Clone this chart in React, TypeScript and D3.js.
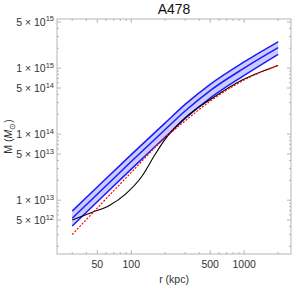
import React from 'react';
import * as d3 from 'd3';

// radii (kpc) and masses (M_sun)
const rGrid = [30, 50, 100, 200, 300, 500, 1000, 2000];
const massMid = [5.31e12, 1.23e13, 3.85e13, 1.175e14, 2.24e14, 4.57e14, 1.0e15, 2.04e15];
const massUpper = [6.84e12, 1.585e13, 4.9e13, 1.48e14, 2.82e14, 5.69e14, 1.245e15, 2.51e15];
const massLower = [4.07e12, 9.44e12, 2.95e13, 9.02e13, 1.73e14, 3.52e14, 7.76e14, 1.62e15];
const massFit = [3.02e12, 7.59e12, 2.63e13, 8.91e13, 1.585e14, 3.16e14, 6.61e14, 1.1e15];

const rHydro = [30, 44, 64, 90, 123, 161, 197, 297, 518, 960, 2000];
const massHydro = [
  5.01e12, 6.46e12, 8.32e12, 1.26e13, 2.24e13, 4.79e13, 8.13e13, 1.74e14, 3.47e14, 6.61e14,
  1.1e15,
];

const xTickValues = [50, 100, 500, 1000];
const yTickMant = [5, 1, 5, 1, 5, 1, 5];
const yTickExp = [15, 15, 14, 14, 13, 13, 12];

const title = 'A478';

const W = 295;
const H = 288;
const margin = { top: 19, right: 4, bottom: 34, left: 57 };

const App: React.FC = () => {
  const x = d3
    .scaleLog()
    .domain([22, 2600])
    .range([margin.left, W - margin.right]);
  const y = d3
    .scaleLog()
    .domain([1.53e12, 5.55e15])
    .range([H - margin.bottom, margin.top]);

  const line = d3
    .line<[number, number]>()
    .x((d) => x(d[0]))
    .y((d) => y(d[1]))
    .curve(d3.curveMonotoneX);

  const area = d3
    .area<number>()
    .x((_, i) => x(rGrid[i]))
    .y0((_, i) => y(massLower[i]))
    .y1((_, i) => y(massUpper[i]))
    .curve(d3.curveMonotoneX);

  const zip = (rs: number[], ms: number[]) => rs.map((r, i) => [r, ms[i]] as [number, number]);

  const x0 = margin.left;
  const x1 = W - margin.right;
  const y0 = H - margin.bottom;
  const y1 = margin.top;

  // minor/major ticks for the log frame
  const xMinor: number[] = [];
  for (let e = 1; e <= 3; e++) {
    for (let m = 1; m <= 9; m++) {
      const v = m * Math.pow(10, e);
      if (v >= 22 && v <= 2600) xMinor.push(v);
    }
  }
  const yMinor: number[] = [];
  for (let e = 12; e <= 15; e++) {
    for (let m = 1; m <= 9; m++) {
      const v = m * Math.pow(10, e);
      if (v >= 1.53e12 && v <= 5.55e15) yMinor.push(v);
    }
  }
  const yMajor = yTickMant.map((m, i) => m * Math.pow(10, yTickExp[i]));

  const frameColor = '#b5b5b5';
  const font = "'Liberation Sans', Arial, sans-serif";
  const labelColor = '#333';

  return (
    <svg width={W} height={H} style={{ position: 'absolute', left: 0, top: 0 }} fontFamily={font}>
      <rect x={0} y={0} width={W} height={H} fill="#fff" />
      <text x={(x0 + x1) / 2} y={13.5} textAnchor="middle" fontSize={14} fill="#111">
        {title}
      </text>

      <path d={area(rGrid) || ''} fill="#ccccff" />
      <path d={line(zip(rGrid, massUpper)) || ''} fill="none" stroke="#1a1aff" strokeWidth={1.5} />
      <path d={line(zip(rGrid, massMid)) || ''} fill="none" stroke="#1a1aff" strokeWidth={1.5} />
      <path d={line(zip(rGrid, massLower)) || ''} fill="none" stroke="#1a1aff" strokeWidth={1.5} />
      <path d={line(zip(rHydro, massHydro)) || ''} fill="none" stroke="#000" strokeWidth={1.1} />
      <path
        d={line(zip(rGrid, massFit)) || ''}
        fill="none"
        stroke="#ff0000"
        strokeWidth={1.2}
        strokeDasharray="2,1.5"
      />

      {/* frame */}
      <rect x={x0} y={y1} width={x1 - x0} height={y0 - y1} fill="none" stroke={frameColor} strokeWidth={1} />
      {xMinor.map((v) => {
        const len = xTickValues.includes(v) ? 4 : 2;
        return (
          <g key={'xt' + v} stroke={frameColor}>
            <line x1={x(v)} x2={x(v)} y1={y0} y2={y0 - len} />
            <line x1={x(v)} x2={x(v)} y1={y1} y2={y1 + len} />
          </g>
        );
      })}
      {yMinor.map((v) => {
        const len = yMajor.some((t) => Math.abs(t - v) / v < 1e-6) ? 4 : 2;
        return (
          <g key={'yt' + v} stroke={frameColor}>
            <line x1={x0} x2={x0 + len} y1={y(v)} y2={y(v)} />
            <line x1={x1} x2={x1 - len} y1={y(v)} y2={y(v)} />
          </g>
        );
      })}

      {xTickValues.map((v) => (
        <text key={'xl' + v} x={x(v)} y={268} textAnchor="middle" fontSize={10.5} fill={labelColor}>
          {v}
        </text>
      ))}
      {yMajor.map((v, i) => (
        <text key={'yl' + i} x={54} y={y(v) + 4} textAnchor="end" fontSize={10.5} fill={labelColor}>
          {yTickMant[i]} × 10
          <tspan fontSize={7.5} dy={-4.5}>
            {yTickExp[i]}
          </tspan>
        </text>
      ))}

      <text x={(x0 + x1) / 2} y={283} textAnchor="middle" fontSize={10.5} fill={labelColor}>
        r (kpc)
      </text>
      <text
        transform={`translate(12,${(y0 + y1) / 2}) rotate(-90)`}
        textAnchor="middle"
        fontSize={10.5}
        fill={labelColor}
      >
        M (<tspan fontStyle="italic">M</tspan>
        <tspan fontSize={7.5} dy={2.5}>⊙</tspan>
        <tspan dy={-2.5}>)</tspan>
      </text>
    </svg>
  );
};

export default App;
